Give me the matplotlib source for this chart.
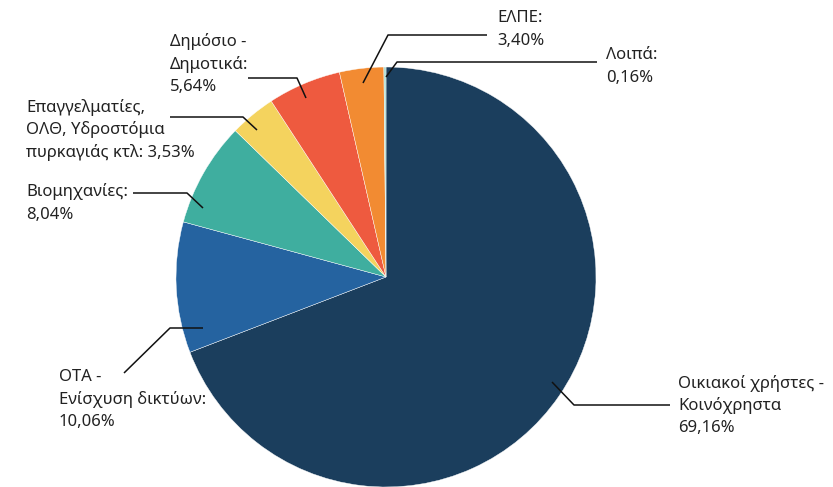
import matplotlib
matplotlib.use('Agg')
import matplotlib.pyplot as plt

labels = ['Οικιακοί χρήστες -\nΚοινόχρηστα\n69,16%',
          'ΟΤΑ -\nΕνίσχυση δικτύων:\n10,06%',
          'Βιομηχανίες:\n8,04%',
          'Επαγγελματίες,\nΟΛΘ, Υδροστόμια\nπυρκαγιάς κτλ: 3,53%',
          'Δημόσιο -\nΔημοτικά:\n5,64%',
          'ΕΛΠΕ:\n3,40%',
          'Λοιπά:\n0,16%']
values = [69.16, 10.06, 8.04, 3.53, 5.64, 3.40, 0.16]
colors = ['#1b3e5d', '#2563a0', '#3fae9f', '#f4d35e', '#ee5a3f', '#f28b32', '#a9dcd3']

plt.rcParams['font.family'] = ['Noto Sans', 'DejaVu Sans']

W, H = 833, 487
fig = plt.figure(figsize=(W / 100, H / 100), dpi=100)
ax = fig.add_axes([0, 0, 1, 1])

# y axis is inverted below, so counterclock in data = clockwise on screen
ax.pie(values, colors=colors, startangle=-90, counterclock=True,
       center=(386, 277), radius=210,
       wedgeprops=dict(edgecolor='white', linewidth=0.3))

# leader lines: anchor in slice -> elbow -> end near text
leaders = [
    [(552, 382), (574, 405), (670, 405)],
    [(203, 328), (170, 328), (124, 373)],
    [(203, 208), (187, 193), (133, 193)],
    [(257, 130), (243, 117), (170, 117)],
    [(306, 98), (297, 78), (248, 78)],
    [(363, 83), (388, 35), (487, 35)],
    [(386, 77), (397, 62), (597, 62)],
]
# first-line position of each label
text_pos = [(678, 383), (59, 377), (26, 192), (26, 107), (170, 42), (497, 18), (606, 55)]
line_gap = 22.7

for pts, (tx, ty), lab in zip(leaders, text_pos, labels):
    xs = [p[0] for p in pts]
    ys = [p[1] for p in pts]
    ax.plot(xs, ys, color='#111111', lw=1.1, solid_capstyle='butt')
    for i, line in enumerate(lab.split('\n')):
        ax.text(tx, ty + i * line_gap, line, fontsize=12, color='#222222',
                ha='left', va='center')

ax.set_xlim(0, W)
ax.set_ylim(H, 0)
ax.set_aspect('equal')
ax.axis('off')

fig.savefig('out.png', dpi=100)
